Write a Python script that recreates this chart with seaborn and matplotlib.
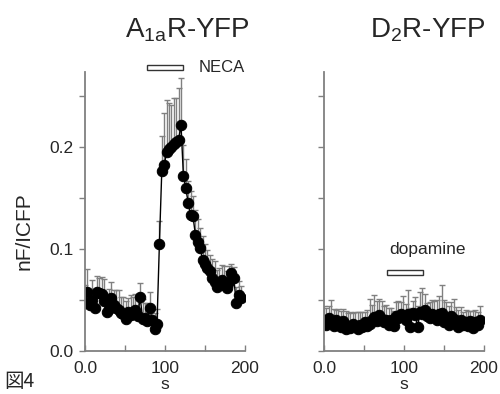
import numpy as np
import matplotlib
matplotlib.use('Agg')
import matplotlib.pyplot as plt
import seaborn as sns
from matplotlib.patches import Rectangle

# ---- data ----
time_s = np.arange(0, 198, 3)  # sampling every 3 s

a1a_mean = [0.047, 0.058, 0.045, 0.050, 0.042, 0.058, 0.057, 0.056, 0.049, 0.038,
            0.041, 0.052, 0.045, 0.042, 0.040, 0.037, 0.036, 0.031, 0.038, 0.035,
            0.038, 0.040, 0.034, 0.053, 0.031, 0.032, 0.029, 0.042, 0.030, 0.022,
            0.027, 0.105, 0.177, 0.182, 0.195, 0.198, 0.200, 0.203, 0.205, 0.207,
            0.222, 0.172, 0.160, 0.145, 0.133, 0.132, 0.114, 0.107, 0.101, 0.089,
            0.085, 0.081, 0.078, 0.072, 0.068, 0.063, 0.066, 0.070, 0.065, 0.062,
            0.068, 0.077, 0.072, 0.047, 0.055, 0.052]
a1a_err = [0.018, 0.022, 0.016, 0.020, 0.017, 0.016, 0.015, 0.017, 0.022, 0.018,
           0.020, 0.016, 0.015, 0.018, 0.020, 0.016, 0.017, 0.018, 0.014, 0.020,
           0.015, 0.016, 0.018, 0.014, 0.020, 0.015, 0.018, 0.016, 0.014, 0.015,
           0.014, 0.023, 0.034, 0.051, 0.051, 0.045, 0.041, 0.045, 0.043, 0.051,
           0.046, 0.030, 0.028, 0.022, 0.024, 0.020, 0.024, 0.022, 0.020, 0.024,
           0.020, 0.018, 0.016, 0.018, 0.020, 0.016, 0.015, 0.014, 0.018, 0.016,
           0.015, 0.008, 0.010, 0.016, 0.014, 0.012]

d2_mean = [0.030, 0.026, 0.032, 0.028, 0.025, 0.030, 0.027, 0.024, 0.029, 0.022,
           0.025, 0.023, 0.027, 0.025, 0.022, 0.026, 0.024, 0.028, 0.025, 0.027,
           0.030, 0.033, 0.029, 0.035, 0.031, 0.028, 0.030, 0.026, 0.030, 0.025,
           0.034, 0.032, 0.036, 0.034, 0.030, 0.036, 0.024, 0.037, 0.035, 0.024,
           0.038, 0.036, 0.040, 0.034, 0.032, 0.036, 0.033, 0.030, 0.036, 0.037,
           0.028, 0.032, 0.026, 0.034, 0.031, 0.027, 0.024, 0.030, 0.026, 0.028,
           0.025, 0.029, 0.023, 0.028, 0.026, 0.030]
d2_err = [0.014, 0.016, 0.012, 0.022, 0.016, 0.010, 0.014, 0.015, 0.012, 0.017,
          0.012, 0.015, 0.010, 0.013, 0.016, 0.012, 0.014, 0.010, 0.015, 0.024,
          0.015, 0.022, 0.020, 0.016, 0.018, 0.016, 0.015, 0.016, 0.012, 0.014,
          0.014, 0.017, 0.012, 0.020, 0.016, 0.024, 0.018, 0.012, 0.018, 0.020,
          0.020, 0.026, 0.016, 0.013, 0.016, 0.014, 0.016, 0.020, 0.018, 0.028,
          0.022, 0.016, 0.018, 0.014, 0.020, 0.016, 0.016, 0.013, 0.012, 0.012,
          0.014, 0.010, 0.016, 0.012, 0.012, 0.014]

titles = ['A$_{\\mathrm{1a}}$R-YFP', 'D$_{\\mathrm{2}}$R-YFP']
drug_names = ['NECA', 'dopamine']
drug_on = [77, 79]
drug_off = [122, 124]

# ---- style ----
sns.set_style("ticks")
plt.rcParams['font.family'] = ['Liberation Sans', 'Noto Sans CJK JP', 'DejaVu Sans']
plt.rcParams['mathtext.fontset'] = 'custom'
plt.rcParams['mathtext.rm'] = 'Liberation Sans'
plt.rcParams['mathtext.it'] = 'Liberation Sans:italic'

grey = '#808080'

fig = plt.figure(figsize=(5, 3.94), dpi=100)
ax1 = fig.add_axes([0.17, 0.109, 0.32, 0.708])
ax2 = fig.add_axes([0.648, 0.109, 0.32, 0.708])

for ax, mean, err in [(ax1, a1a_mean, a1a_err), (ax2, d2_mean, d2_err)]:
    mean = np.array(mean)
    err = np.array(err)
    eb = ax.errorbar(time_s, mean, yerr=[np.zeros_like(err), err], fmt='none',
                     ecolor=grey, elinewidth=1.0, capsize=2.5, capthick=1.0, zorder=1)
    for cap in eb[1]:
        cap.set_color('black')
    sns.lineplot(x=time_s, y=mean, ax=ax, color='black', linewidth=1.0,
                 marker='o', markersize=7.5, markeredgecolor='black', zorder=2)

    ax.set_xlim(0, 200)
    ax.set_ylim(0, 0.2735)
    ax.set_xticks([0, 100, 200])
    ax.set_xticklabels(['0.0', '100', '200'])
    ax.set_xticks([50, 150], minor=True)
    ax.set_yticks([0.0, 0.1, 0.2])
    ax.set_yticks([0.05, 0.15, 0.25], minor=True)
    ax.tick_params(axis='x', which='both', direction='in', length=4, color=grey,
                   width=1.0, labelsize=12.5, pad=7)
    ax.tick_params(axis='y', which='both', direction='out', length=4, color=grey,
                   width=1.0, labelsize=12.5, pad=4)
    sns.despine(ax=ax)
    for side in ['left', 'bottom']:
        ax.spines[side].set_color(grey)
        ax.spines[side].set_linewidth(1.3)
    ax.set_xlabel('s', fontsize=12.5, labelpad=1)
    ax.set_ylabel('')

ax1.set_yticklabels(['0.0', '0.1', '0.2'])
ax2.set_yticklabels([])

# stimulus bars
ax1.add_patch(Rectangle((drug_on[0], 0.2755), drug_off[0] - drug_on[0], 0.005,
                        facecolor='white', edgecolor='#333333', linewidth=1.0, clip_on=False))
ax1.text(142, 0.278, drug_names[0], fontsize=12, va='center', ha='left')
ax2.add_patch(Rectangle((drug_on[1], 0.0745), drug_off[1] - drug_on[1], 0.0045,
                        facecolor='white', edgecolor='#333333', linewidth=1.0))
ax2.text(81, 0.100, drug_names[1], fontsize=12.5, va='center', ha='left')

# titles
fig.text(0.374, 0.906, titles[0], fontsize=20, ha='center', va='baseline')
fig.text(0.856, 0.906, titles[1], fontsize=20, ha='center', va='baseline')

# y label
fig.text(0.048, 0.414, 'nF/ICFP', fontsize=15, rotation=90, ha='center', va='center')

# figure number at the bottom-left corner
fig.text(0.008, 0.004, '図4', fontsize=14, ha='left', va='bottom',
         family=['Noto Sans CJK JP', 'DejaVu Sans'])

plt.savefig('out.png', dpi=100)
